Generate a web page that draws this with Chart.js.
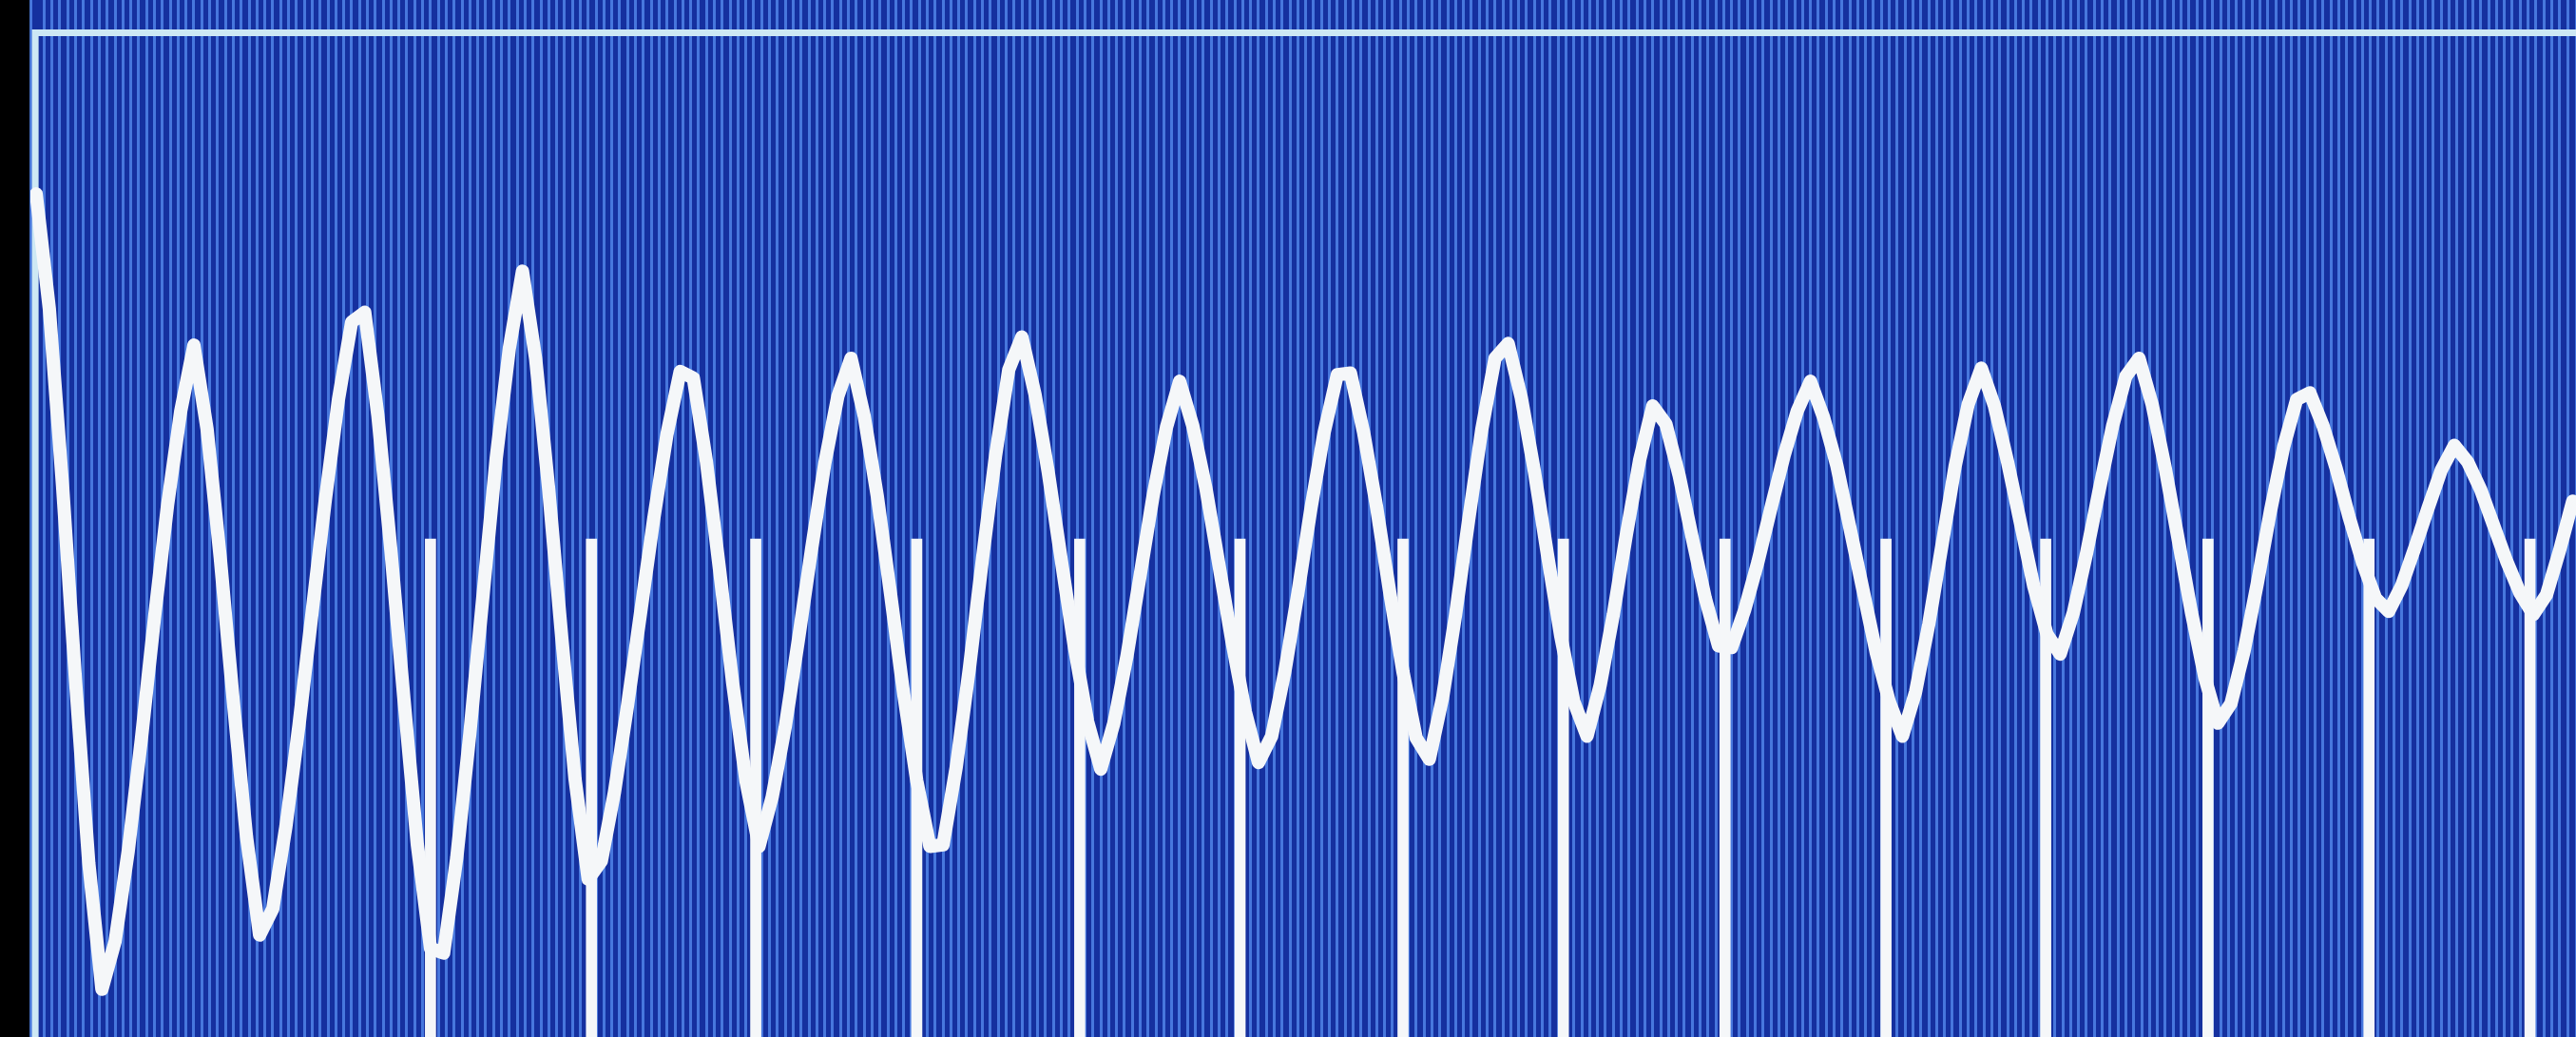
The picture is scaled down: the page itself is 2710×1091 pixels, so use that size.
<!DOCTYPE html>
<html>
<head>
<meta charset="utf-8">
<title>Scope trace</title>
<script src="https://cdn.jsdelivr.net/npm/chart.js@4.4.1/dist/chart.umd.min.js"></script>
<style>
  html, body { margin: 0; padding: 0; background: #000; overflow: hidden; }
  #wrap { width: 2710px; height: 1091px; position: relative; }
</style>
</head>
<body>
<div id="wrap"><canvas id="scope"></canvas></div>
<script>
// sampled trace, one value per sample (ADC counts, 0 = bottom of screen)
const signal = [
  513, 443, 336, 216, 106, 29, 58, 113, 181, 255, 324, 381, 421,
  370, 292, 204, 122, 62, 78, 128, 190, 259, 327, 388, 435,
  441, 378, 295, 204, 117, 54, 51, 109, 185, 269, 352, 419, 466,
  413, 333, 242, 157, 96, 107, 149, 202, 259, 316, 367, 405,
  401, 350, 284, 215, 156, 116, 146, 189, 242, 297, 349, 390,
  413, 378, 329, 270, 209, 156, 116, 117, 164, 224, 291, 354, 406,
  426, 391, 344, 290, 237, 192, 163, 191, 232, 281, 330, 371, 399,
  372, 334, 287, 240, 198, 167, 183, 222, 270, 322, 368, 403,
  404, 368, 322, 270, 222, 182, 169, 206, 257, 315, 370, 413,
  422, 389, 344, 293, 244, 204, 183, 214, 257, 306, 351, 384,
  373, 342, 304, 267, 238, 237, 260, 289, 322, 354, 381, 399,
  377, 348, 310, 272, 234, 204, 183, 210, 251, 299, 347, 385,
  407, 384, 350, 312, 274, 245, 233, 258, 294, 334, 372, 402,
  413, 385, 346, 302, 258, 219, 191, 203, 235, 276, 320, 359, 388,
  392, 372, 346, 316, 289, 267, 259, 275, 298, 322, 345, 360,
  350, 333, 311, 289, 270, 257, 269, 296, 326
];

// trigger pulses (sample position) and their height
const pulseAt = [30.0, 42.25, 54.75, 67.0, 79.4, 91.6, 104.0, 116.2, 128.5, 140.75, 152.9, 165.25, 177.5, 189.75];
const pulseTop = 303;

// screen frame (graticule border)
const frameTop = 611;
const frameLeft = -0.07;

const traceColor = '#f5f7f9';
const frameColor = 'rgb(205, 232, 244)';
const screenBlue = '#15309f';
const stripeColor = 'rgba(80, 132, 232, 0.85)';

const screenPlugin = {
  id: 'screen',
  beforeDraw(chart) {
    const {ctx, width, height, chartArea} = chart;
    ctx.save();
    ctx.fillStyle = '#000';
    ctx.fillRect(0, 0, width, height);
    ctx.fillStyle = screenBlue;
    ctx.fillRect(chartArea.left, 0, width - chartArea.left, height);
    ctx.restore();
  },
  beforeDatasetsDraw(chart) {
    const {ctx, chartArea, scales} = chart;
    const top = scales.y.getPixelForValue(frameTop);
    const left = scales.x.getPixelForValue(frameLeft);
    ctx.save();
    ctx.strokeStyle = frameColor;
    ctx.lineWidth = 7;
    ctx.beginPath();
    ctx.moveTo(left, chartArea.bottom);
    ctx.lineTo(left, top);
    ctx.lineTo(chartArea.right, top);
    ctx.stroke();
    ctx.restore();
  }
};

const ctx = document.getElementById('scope').getContext('2d');
const chart = new Chart(ctx, {
  type: 'line',
  data: {
    datasets: [
      {
        type: 'line',
        label: 'trace',
        data: signal.map((v, i) => ({x: i, y: v})),
        borderColor: traceColor,
        borderWidth: 14,
        tension: 0,
        pointRadius: 0,
        borderJoinStyle: 'round',
        borderCapStyle: 'round',
        fill: false,
        order: 1
      },
      {
        type: 'bar',
        label: 'pulse',
        data: pulseAt.map(p => ({x: p, y: [0, pulseTop]})),
        backgroundColor: traceColor,
        borderWidth: 0,
        barThickness: 11,
        order: 2
      }
    ]
  },
  options: {
    responsive: true,
    maintainAspectRatio: false,
    devicePixelRatio: 1,
    animation: false,
    layout: { padding: { left: 32, right: 0, top: 0, bottom: 0 } },
    plugins: {
      legend: { display: false },
      tooltip: { enabled: false }
    },
    scales: {
      x: {
        type: 'linear',
        min: -0.44,
        max: 193.25,
        offset: false,
        display: true,
        ticks: { display: false, stepSize: 0.6 },
        grid: { color: stripeColor, lineWidth: 3, drawTicks: false, offset: false },
        border: { display: false }
      },
      y: {
        type: 'linear',
        min: 0,
        max: 631,
        display: false
      }
    }
  },
  plugins: [screenPlugin]
});
</script>
</body>
</html>
